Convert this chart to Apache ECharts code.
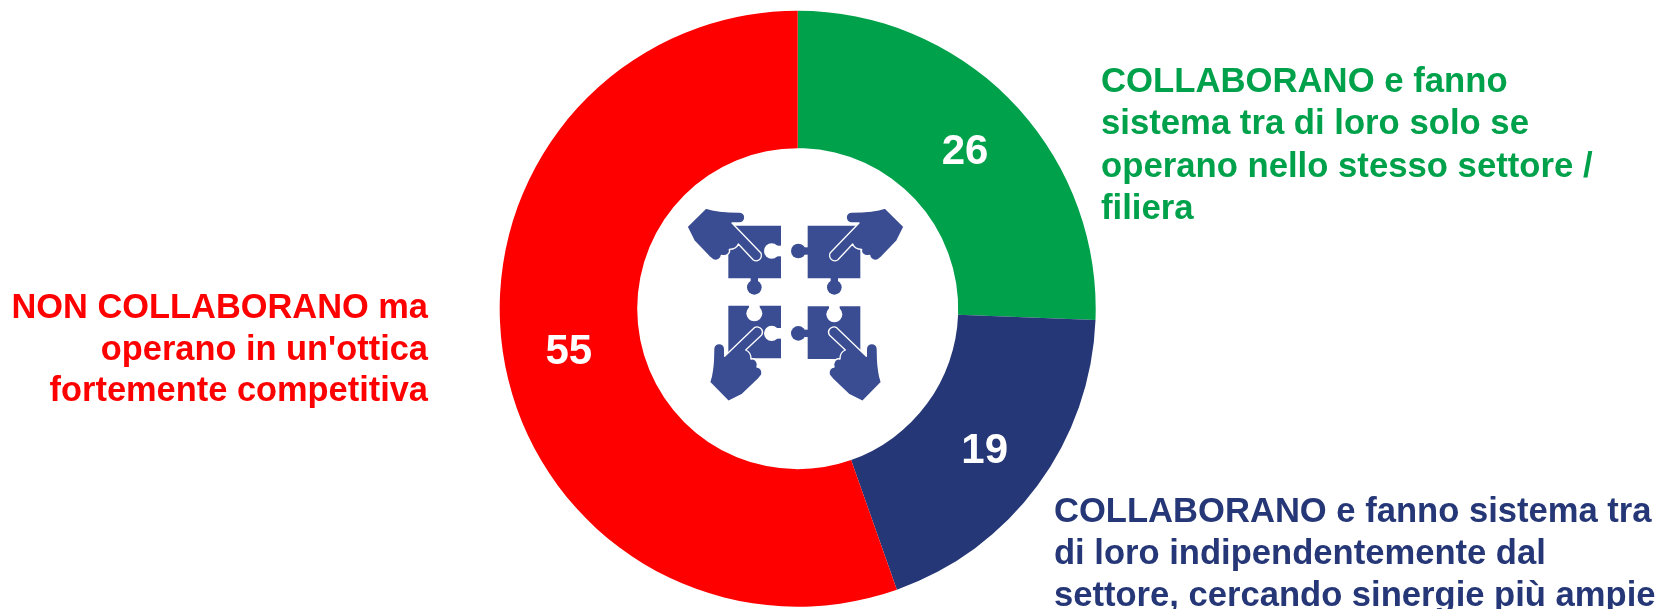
<!DOCTYPE html>
<html>
<head>
<meta charset="utf-8">
<style>
html,body{margin:0;padding:0;background:#fff;}
#chart{width:1662px;height:609px;}
</style>
<script src="https://cdn.jsdelivr.net/npm/echarts@6/dist/echarts.min.js"></script>
</head>
<body>
<div id="chart"></div>
<script>
var names = ['COLLABORANO solo stesso settore', 'COLLABORANO indipendentemente', 'NON COLLABORANO'];
// slice angles, the labels show them rounded
var values = [25.6, 19, 55.4];
var colors = ['#00a14b', '#253776', '#ff0000'];

var greenLines = ['COLLABORANO e fanno', 'sistema tra di loro solo se', 'operano nello stesso settore /', 'filiera'];
var blueLines = ['COLLABORANO e fanno sistema tra', 'di loro indipendentemente dal', 'settore, cercando sinergie più ampie'];
var redLines = ['NON COLLABORANO ma', "operano in un'ottica", 'fortemente competitiva'];

var FONT = '"Liberation Sans", Arial, sans-serif';
var ICON = '#3a4d92';

// caption block, one text per line so baselines stay put
function caption(lines, x, y, size, step, color, align) {
    return lines.map(function (line, i) {
        return {
            type: 'text',
            x: x,
            y: y + i * step,
            silent: true,
            style: {
                text: line,
                fill: color,
                font: 'bold ' + size + 'px ' + FONT,
                textAlign: align,
                textVerticalAlign: 'bottom'
            }
        };
    });
}

function dot(cx, cy, r, fill) {
    return {type: 'circle', shape: {cx: cx, cy: cy, r: r}, style: {fill: fill}};
}
function box(x, y, w, h, fill) {
    return {type: 'rect', shape: {x: x, y: y, width: w, height: h}, style: {fill: fill}};
}

// icon is drawn in the coordinates of a 3x crop, then scaled down by the group
var handPath = 'M228 84 C262 96 296 96 328 96 A16 16 0 0 1 328 129 L306 129 L392 218 A16 16 0 0 1 370 240 L325 192 '
    + 'C320 205 308 208 298 208 C302 220 290 230 274 226 C274 236 262 244 250 240 L238 230 L192 182 L171 140 Z';
echarts.graphic.registerShape('hand', echarts.graphic.extendPath(handPath, {}));

function hand(opts) {
    return Object.assign({
        type: 'hand',
        style: {fill: ICON, stroke: '#fff', lineWidth: 4, lineJoin: 'round'}
    }, opts);
}

var iconParts = [
    box(295, 137, 158, 158, ICON),
    box(533, 137, 158, 158, ICON),
    box(295, 377, 158, 158, ICON),
    box(533, 379, 158, 158, ICON),
    // knobs
    dot(373, 322, 22, ICON), box(362, 290, 22, 18, ICON),
    dot(613, 322, 22, ICON), box(602, 290, 22, 18, ICON),
    dot(505, 213, 22, ICON), box(515, 202, 22, 22, ICON),
    dot(505, 460, 22, ICON), box(515, 449, 22, 22, ICON),
    // notches
    dot(425, 213, 23, '#fff'), box(430, 197, 26, 32, '#fff'),
    dot(425, 460, 23, '#fff'), box(430, 444, 26, 32, '#fff'),
    dot(373, 400, 24, '#fff'), box(357, 372, 32, 20, '#fff'),
    dot(613, 403, 24, '#fff'), box(597, 374, 32, 20, '#fff'),
    // hands
    hand({}),
    hand({x: 993, scaleX: -1}),
    hand({x: 155, y: 835, rotation: Math.PI / 2}),
    hand({x: 838, y: 835, rotation: Math.PI / 2, scaleY: -1})
];

var myChart = echarts.init(document.getElementById('chart'));
var option = {
    backgroundColor: '#fff',
    animation: false,
    series: [
        {
            type: 'pie',
            center: [797.7, 308.7],
            radius: [160.5, 298],
            startAngle: 90,
            clockwise: true,
            silent: true,
            itemStyle: {borderWidth: 0},
            label: {
                show: true,
                position: 'inside',
                formatter: function (p) {
                    return Math.round(p.value);
                },
                color: '#fff',
                fontFamily: FONT,
                fontWeight: 'bold',
                fontSize: 42,
                offset: [0, 5]
            },
            labelLine: {show: false},
            data: values.map(function (v, i) {
                return {value: v, name: names[i], itemStyle: {color: colors[i]}};
            })
        }
    ],
    graphic: {
        elements: [
            {type: 'group', x: 630, y: 180, scaleX: 1 / 3, scaleY: 1 / 3, silent: true, children: iconParts}
        ].concat(
            caption(greenLines, 1101, 100, 34.7, 42.4, colors[0], 'left'),
            caption(blueLines, 1054, 530, 34.6, 42, colors[1], 'left'),
            caption(redLines, 428, 326, 34.4, 41.4, colors[2], 'right')
        )
    }
};
myChart.setOption(option);
</script>
</body>
</html>
